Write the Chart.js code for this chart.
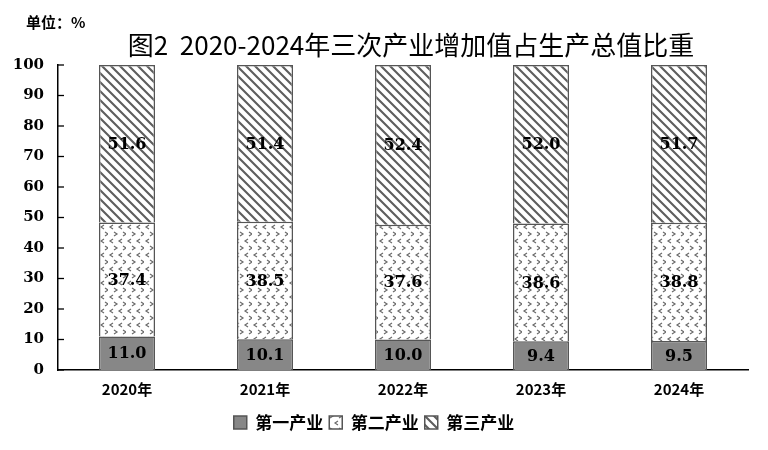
<!DOCTYPE html>
<html>
<head>
<meta charset="utf-8">
<script src="https://cdn.jsdelivr.net/npm/chart.js@4/dist/chart.umd.min.js"></script>
<style>
  body { margin: 0; background: #fff; }
  #wrap { width: 768px; height: 450px; position: relative; }
</style>
</head>
<body>
<div id="wrap"><canvas id="chart"></canvas></div>
<script>
// data
var years = ['2020年', '2021年', '2022年', '2023年', '2024年'];
var primary = [11.0, 10.1, 10.0, 9.4, 9.5];
var secondary = [37.4, 38.5, 37.6, 38.6, 38.8];
var tertiary = [51.6, 51.4, 52.4, 52.0, 51.7];
var seriesNames = ['第一产业', '第二产业', '第三产业'];
var yTicks = [0, 10, 20, 30, 40, 50, 60, 70, 80, 90, 100];

// hatch pattern for tertiary
function hatchPattern() {
    var c = document.createElement('canvas');
    c.width = 9; c.height = 9;
    var g = c.getContext('2d');
    g.fillStyle = '#fff';
    g.fillRect(0, 0, 9, 9);
    g.strokeStyle = '#5e5e5e';
    g.lineWidth = 2.1;
    g.beginPath();
    g.moveTo(-2, -2); g.lineTo(11, 11);
    g.moveTo(-11, -2); g.lineTo(2, 11);
    g.moveTo(7, -2); g.lineTo(20, 11);
    g.stroke();
    return g.createPattern(c, 'repeat');
}

// chevron pattern for secondary
function chevronPattern() {
    var c = document.createElement('canvas');
    c.width = 18; c.height = 14;
    var g = c.getContext('2d');
    g.fillStyle = '#fff';
    g.fillRect(0, 0, 18, 14);
    g.strokeStyle = '#6a6a6a';
    g.lineWidth = 1.2;
    function lt(x, y) { g.beginPath(); g.moveTo(x + 3, y - 2); g.lineTo(x, y); g.lineTo(x + 3, y + 2); g.stroke(); }
    function gt(x, y) { g.beginPath(); g.moveTo(x, y - 2); g.lineTo(x + 3, y); g.lineTo(x, y + 2); g.stroke(); }
    lt(2, 3); lt(11, 3);
    gt(6, 10); gt(15, 10);
    return g.createPattern(c, 'repeat');
}

var ctx = document.getElementById('chart');

var extras = {
    id: 'extras',
    afterDraw: function (chart) {
        var c = chart.ctx;
        var ys = chart.scales.y;
        var area = chart.chartArea;
        c.save();
        // inward ticks on y axis
        c.strokeStyle = '#000';
        c.lineWidth = 1.3;
        ys.ticks.forEach(function (t, i) {
            var py = ys.getPixelForTick(i);
            c.beginPath();
            c.moveTo(area.left, py);
            c.lineTo(area.left + 6, py);
            c.stroke();
        });
        // value labels
        c.fillStyle = '#000';
        c.font = 'bold 16px "DejaVu Serif", serif';
        c.textAlign = 'center';
        c.textBaseline = 'middle';
        chart.data.datasets.forEach(function (ds, di) {
            var meta = chart.getDatasetMeta(di);
            meta.data.forEach(function (bar, i) {
                var mid = (bar.y + bar.base) / 2;
                c.fillText(ds.data[i].toFixed(1), bar.x, mid + 1);
            });
        });
        // title and unit
        c.font = '26px "Noto Sans CJK SC", sans-serif';
        c.fillText('图2  2020-2024年三次产业增加值占生产总值比重', 411, 45);
        c.font = 'bold 15px "Noto Sans CJK SC", sans-serif';
        c.textAlign = 'left';
        c.fillText('单位：%', 26, 22);
        c.restore();
    }
};

var config = {
    type: 'bar',
    data: {
        labels: years,
        datasets: [{
            label: seriesNames[0],
            data: primary,
            backgroundColor: '#878787',
            borderColor: '#555',
            borderWidth: 1.5
        }, {
            label: seriesNames[1],
            data: secondary,
            backgroundColor: chevronPattern(),
            borderColor: '#555',
            borderWidth: 1.5
        }, {
            label: seriesNames[2],
            data: tertiary,
            backgroundColor: hatchPattern(),
            borderColor: '#555',
            borderWidth: 1.5
        }]
    },
    options: {
        responsive: true,
        maintainAspectRatio: false,
        animation: false,
        categoryPercentage: 1,
        barPercentage: 0.406,
        layout: {
            padding: { left: 0, right: 20, top: 65, bottom: 9 }
        },
        plugins: {
            legend: {
                position: 'bottom',
                labels: {
                    boxWidth: 13,
                    boxHeight: 13,
                    padding: 6,
                    color: '#000',
                    font: { family: '"Noto Sans CJK SC", sans-serif', size: 17, weight: 'bold' }
                }
            },
            tooltip: { enabled: false }
        },
        scales: {
            x: {
                stacked: true,
                grid: { display: false, drawTicks: false },
                border: { color: '#000', width: 1.5 },
                ticks: {
                    color: '#000',
                    padding: 10,
                    font: { family: '"Noto Sans CJK SC", sans-serif', size: 15, weight: 'bold' }
                }
            },
            y: {
                stacked: true,
                min: 0,
                max: 100,
                afterFit: function (scale) { scale.width = 58; },
                afterBuildTicks: function (scale) {
                    scale.ticks = yTicks.map(function (v) { return { value: v }; });
                },
                grid: { display: false, drawTicks: false },
                border: { color: '#000', width: 1.5 },
                ticks: {
                    color: '#000',
                    padding: 14,
                    font: { family: '"DejaVu Serif", serif', size: 15, weight: 'bold' }
                }
            }
        }
    },
    plugins: [extras]
};

window.myBar = new Chart(ctx, config);
</script>
</body>
</html>
